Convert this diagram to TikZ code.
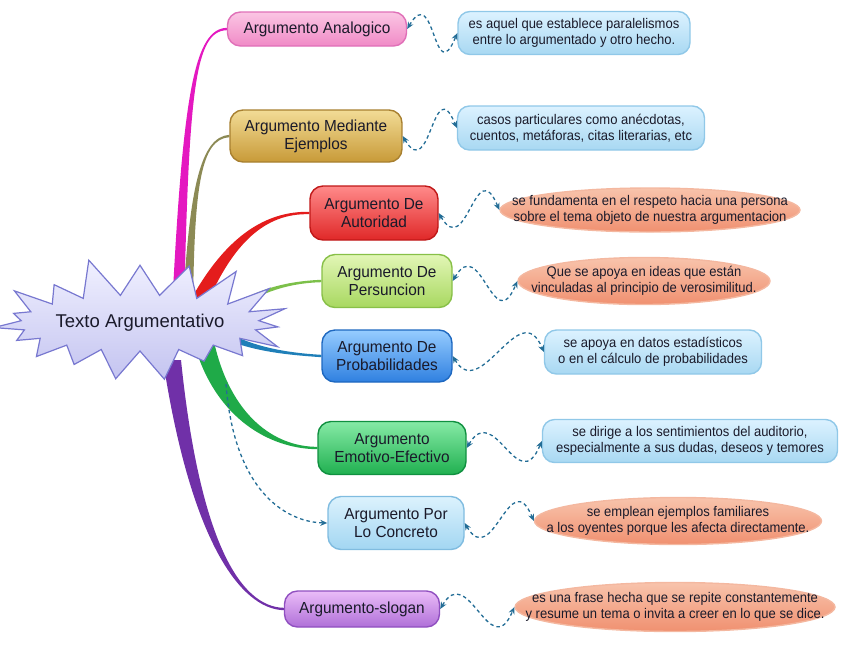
\documentclass[tikz,border=0pt]{standalone}
\usepackage{fontspec}
\setmainfont{Liberation Sans}
\newfontfamily\argfont[FakeStretch=0.96]{Liberation Sans}
\newfontfamily\descfont[FakeStretch=0.93]{Liberation Sans}
\usetikzlibrary{shapes.symbols,shapes.geometric,arrows.meta,calc,backgrounds}

\definecolor{inkc}{HTML}{1A1A2A}
\definecolor{linkc}{HTML}{236D96}
\definecolor{pinkT}{HTML}{FBC6E4}\definecolor{pinkB}{HTML}{F08AC6}\definecolor{pinkD}{HTML}{E070B8}
\definecolor{goldT}{HTML}{F2DC96}\definecolor{goldB}{HTML}{C89A38}\definecolor{goldD}{HTML}{A88030}
\definecolor{redT}{HTML}{FF8A8A}\definecolor{redB}{HTML}{E02828}\definecolor{redD}{HTML}{C01818}
\definecolor{limeT}{HTML}{E2F6B6}\definecolor{limeB}{HTML}{A8D860}\definecolor{limeD}{HTML}{88C048}
\definecolor{blueT}{HTML}{96CCFF}\definecolor{blueB}{HTML}{2F80E0}\definecolor{blueD}{HTML}{1E68C0}
\definecolor{grnT}{HTML}{86EAA6}\definecolor{grnB}{HTML}{20B050}\definecolor{grnD}{HTML}{109040}
\definecolor{skyT}{HTML}{DCF2FD}\definecolor{skyB}{HTML}{A2D6F2}\definecolor{skyD}{HTML}{80BCE0}
\definecolor{purT}{HTML}{EABCF8}\definecolor{purB}{HTML}{B070D8}\definecolor{purD}{HTML}{9050C0}
\definecolor{salT}{HTML}{F8C4AC}\definecolor{salB}{HTML}{F09070}\definecolor{salD}{HTML}{F4B8A0}
\definecolor{descT}{HTML}{DCF2FF}\definecolor{descB}{HTML}{A8D8F2}\definecolor{descD}{HTML}{90C8E8}
\definecolor{starT}{HTML}{F0F0FF}\definecolor{starB}{HTML}{C4C4F0}\definecolor{starD}{HTML}{7878D0}
\definecolor{pinkBr}{HTML}{E418C0}\definecolor{oliveBr}{HTML}{8C8A55}\definecolor{redBr}{HTML}{E41C1C}
\definecolor{limeBr}{HTML}{7CC04A}\definecolor{blueBr}{HTML}{1F7FB8}\definecolor{grnBr}{HTML}{1FAA48}
\definecolor{purBr}{HTML}{7030A8}

% tapered branch: colour, start, control 1, control 2, end, half width
\newcommand{\twig}[6]{%
  \fill[#1] ($(#2)-(#6)$) .. controls ($(#3)-0.5*(#6)$) and ($(#4)-(0,1)$) .. ($(#5)-(0,1.2)$)
    -- ($(#5)+(0,1.2)$) .. controls ($(#4)+(0,1)$) and ($(#3)+0.5*(#6)$) .. ($(#2)+(#6)$) -- cycle;}

\tikzset{
  arg/.style={rounded corners=13pt, line width=1.4pt, inner sep=3pt, align=center,
    text=inkc, font=\argfont\fontsize{16}{18}\selectfont},
  note/.style={rounded corners=12pt, line width=1.4pt, inner sep=2pt, align=center,
    text=inkc, font=\descfont\fontsize{14}{16}\selectfont,
    top color=descT, bottom color=descB, draw=descD},
  oval/.style={ellipse, line width=1.4pt, inner xsep=-40pt, inner ysep=-1pt, align=center,
    text=inkc, font=\descfont\fontsize{14}{16}\selectfont,
    top color=salT, bottom color=salB, draw=salD},
  link/.style={draw=linkc, line width=1.3pt, dash pattern=on 3.5pt off 3pt,
    {Stealth[length=7pt,width=6pt]}-{Stealth[length=7pt,width=6pt]}},
}

\begin{document}
\begin{tikzpicture}[x=1pt,y=-1pt]
\useasboundingbox (0,0) rectangle (842,646);
\coordinate (hub) at (140,323);

% main ideas
\node[arg, top color=pinkT, bottom color=pinkB, draw=pinkD, minimum width=179pt, minimum height=34pt] (ana) at (317,29) {Argumento Analogico};
\node[arg, top color=goldT, bottom color=goldB, draw=goldD, minimum width=172pt, minimum height=52pt] (mej) at (316,136) {Argumento Mediante\\Ejemplos};
\node[arg, top color=redT, bottom color=redB, draw=redD, minimum width=128pt, minimum height=54pt] (aut) at (374,213) {Argumento De\\Autoridad};
\node[arg, top color=limeT, bottom color=limeB, draw=limeD, minimum width=130pt, minimum height=53pt] (per) at (387,281) {Argumento De\\Persuncion};
\node[arg, top color=blueT, bottom color=blueB, draw=blueD, minimum width=130pt, minimum height=52pt] (pro) at (387,356) {Argumento De\\Probabilidades};
\node[arg, top color=grnT, bottom color=grnB, draw=grnD, minimum width=148pt, minimum height=53pt] (emo) at (392,448) {Argumento\\Emotivo-Efectivo};
\node[arg, top color=skyT, bottom color=skyB, draw=skyD, minimum width=136pt, minimum height=53pt] (con) at (396,523) {Argumento Por\\Lo Concreto};
\node[arg, top color=purT, bottom color=purB, draw=purD, minimum width=155pt, minimum height=36pt] (slo) at (362,609) {Argumento-slogan};

% descriptions
\node[note, minimum width=232pt, minimum height=43pt] (d1) at (574,33) {es aquel que establece paralelismos\\entre lo argumentado y otro hecho.};
\node[note, minimum width=247pt, minimum height=44pt] (d2) at (581,128) {casos particulares como anécdotas,\\cuentos, metáforas, citas literarias, etc};
\node[oval, minimum width=300pt, minimum height=44pt] (d3) at (650,210) {se fundamenta en el respeto hacia una persona\\sobre el tema objeto de nuestra argumentacion};
\node[oval, minimum width=252pt, minimum height=47pt] (d4) at (644,281) {Que se apoya en ideas que están\\vinculadas al principio de verosimilitud.};
\node[note, minimum width=217pt, minimum height=44pt] (d5) at (653,352) {se apoya en datos estadísticos\\o en el cálculo de probabilidades};
\node[note, minimum width=295pt, minimum height=43pt] (d6) at (690,441) {se dirige a los sentimientos del auditorio,\\especialmente a sus dudas, deseos y temores};
\node[oval, minimum width=287pt, minimum height=47pt] (d7) at (678,521) {se emplean ejemplos familiares\\a los oyentes porque les afecta directamente.};
\node[oval, minimum width=320pt, minimum height=49pt] (d8) at (675,607) {es una frase hecha que se repite constantemente\\y resume un tema o invita a creer en lo que se dice.};

% centre
\node[starburst, starburst points=19, starburst point height=40pt, random starburst=11,
  top color=starT, bottom color=starB, draw=starD, line width=1.2pt,
  minimum width=275pt, minimum height=136pt, inner sep=0pt,
  text=inkc, font=\fontsize{18.5}{20}\selectfont] (star) at (hub) {Texto Argumentativo};

% branches
\begin{pgfonlayer}{background}
\coordinate (b1) at ($(hub)+(38,-13)$);
\coordinate (b2) at ($(hub)+(48,-18)$);
\coordinate (b3) at ($(hub)+(60,-23)$);
\coordinate (b4) at ($(hub)+(85,-8)$);
\coordinate (b5) at ($(hub)+(85,12)$);
\coordinate (b6) at ($(hub)+(65,22)$);
\coordinate (b7) at ($(hub)+(32,37)$);
\twig{pinkBr}{b1}{186,90}{195,30}{ana.west}{6,0}
\twig{oliveBr}{b2}{192,190}{200,138}{mej.west}{5,0}
\twig{redBr}{b3}{230,240}{265,212}{aut.west}{6,6}
\twig{limeBr}{b4}{255,290}{290,282}{per.west}{0,4}
\twig{blueBr}{b5}{255,350}{290,354}{pro.west}{0,4}
\twig{grnBr}{b6}{225,420}{275,448}{emo.west}{-8,8}
\twig{purBr}{b7}{195,540}{240,608}{slo.west}{-9,0}
\end{pgfonlayer}

% links
\draw[link] (ana.east) .. controls +(28,-48) and +(-24,58) .. (d1.west);
\draw[link] (mej.east) .. controls +(28,48) and +(-24,-58) .. (d2.west);
\draw[link, {Stealth[open,length=7pt,width=6pt]}-{Stealth[length=7pt,width=6pt]}] (aut.east) .. controls +(28,48) and +(-24,-58) .. (d3.west);
\draw[link, {Stealth[length=7pt,width=6pt]}-{Stealth[open,length=7pt,width=6pt]}] (per.east) .. controls +(28,-48) and +(-24,58) .. (d4.west);
\draw[link, {Stealth[open,length=7pt,width=6pt]}-{Stealth[length=7pt,width=6pt]}] (pro.east) .. controls +(28,48) and +(-24,-58) .. (d5.west);
\draw[link] (emo.east) .. controls +(28,-48) and +(-24,58) .. (d6.west);
\draw[link, {Stealth[open,length=7pt,width=6pt]}-{Stealth[length=7pt,width=6pt]}] (con.east) .. controls +(28,48) and +(-24,-58) .. (d7.west);
\draw[link] (slo.east) .. controls +(28,-48) and +(-24,58) .. (d8.west);
\coordinate (sc) at (226,384);
\draw[link, -{Stealth[open,length=7pt,width=6pt]}] (sc) .. controls (234,490) and (285,522) .. (con.west);
\end{tikzpicture}
\end{document}
